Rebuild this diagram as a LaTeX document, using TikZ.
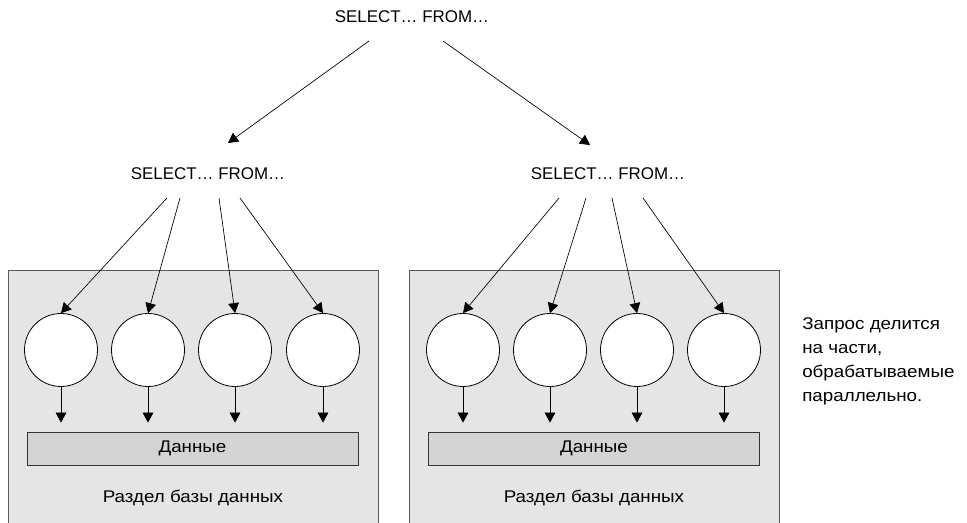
\documentclass[tikz,border=0pt]{standalone}
\usepackage{fontspec}
\setmainfont{Liberation Sans}
\newfontfamily\cyrwide[FakeStretch=1.11]{Liberation Sans}
\usepackage{tikz}
\usetikzlibrary{arrows.meta,positioning}

\begin{document}
\begin{tikzpicture}
  [x=0.75pt,y=-0.75pt,
   every node/.style={font=\fontsize{12.7}{18}\selectfont, inner sep=0pt},
   rutext/.style={font=\cyrwide\fontsize{12.7}{18}\selectfont},
   partbox/.style={rectangle,draw=black!65,fill=black!10,line width=0.7pt,
                   minimum width=277.5pt,minimum height=195pt},
   databar/.style={rectangle,draw=black!80,fill=black!17,line width=0.6pt,
                   minimum width=248.25pt,minimum height=24.75pt,rutext},
   proc/.style={circle,draw,fill=white,line width=0.6pt,minimum size=54.75pt},
   arr/.style={-{Triangle[length=7.5pt,width=8pt]},line width=0.5pt}]

  \useasboundingbox (0,0) rectangle (967,523);

  % the two partitions
  \node[partbox] (partL) at (193,400) {};
  \node[partbox] (partR) at (594,400) {};
  \node[databar] (dataL) at (192.5,448.5) {Данные};
  \node[databar] (dataR) at (594,448.5) {Данные};
  \node[rutext] (nameL) at (193,498) {Раздел базы данных};
  \node[rutext] (nameR) at (594,498) {Раздел базы данных};

  % queries
  \node (qtop) at (412,17) {SELECT… FROM…};
  \node (qleft) at (208,174) {SELECT… FROM…};
  \node (qright) at (608,174) {SELECT… FROM…};

  \node[rutext,anchor=west,align=left] (note) at (802,361)
    {Запрос делится\\на части,\\обрабатываемые\\параллельно.};

  % workers
  \foreach \x [count=\i] in {61,148,235,323,463,550,637,724}
    \node[proc] (c\i) at (\x,350) {};

  % draw the arrows
  \draw[arr] ([shift={(-43,24)}]qtop.center) -- ([shift={(20,-31)}]qleft.center);
  \draw[arr] ([shift={(31,24)}]qtop.center) -- ([shift={(-18,-29)}]qright.center);

  \foreach \i/\dx in {1/-41,2/-28,3/11,4/32}
    \draw[arr] ([shift={(\dx,24)}]qleft.center) -- (c\i.north);
  \foreach \i/\dx in {5/-49,6/-22,7/4,8/35}
    \draw[arr] ([shift={(\dx,24)}]qright.center) -- (c\i.north);

  \foreach \i in {1,...,4}
    \draw[arr,shorten >=6.75pt] (c\i.south) -- (c\i.south |- dataL.north);
  \foreach \i in {5,...,8}
    \draw[arr,shorten >=6.75pt] (c\i.south) -- (c\i.south |- dataR.north);

\end{tikzpicture}
\end{document}
